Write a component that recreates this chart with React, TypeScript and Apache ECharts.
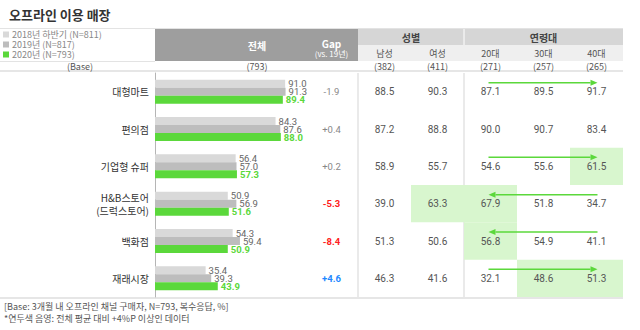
import React, { useEffect, useRef } from "react";
import * as echarts from "echarts";

const TITLE = "오프라인 이용 매장";
const CATEGORIES = ["대형마트", "편의점", "기업형 슈퍼", "H&B스토어\n(드럭스토어)", "백화점", "재래시장"];
const SERIES_NAMES = ["2018년 하반기 (N=811)", "2019년 (N=817)", "2020년 (N=793)"];
const S2018 = [91.0, 84.3, 56.4, 50.9, 54.3, 35.4];
const S2019 = [91.3, 87.6, 57.0, 56.9, 59.4, 39.3];
const S2020 = [89.4, 88.0, 57.3, 51.6, 50.9, 43.9];

const TABLE_COLS = ["Gap", "남성", "여성", "20대", "30대", "40대"];
const COL_BASES = ["", "(382)", "(411)", "(271)", "(257)", "(265)"];
const TOTAL_BASE = "(793)";
const GAP = [-1.9, 0.4, 0.2, -5.3, -8.4, 4.6];
const GAP_SIG = [0, 0, 0, 1, 1, 1];
const MALE = [88.5, 87.2, 58.9, 39.0, 51.3, 46.3];
const FEMALE = [90.3, 88.8, 55.7, 63.3, 50.6, 41.6];
const AGE20 = [87.1, 90.0, 54.6, 67.9, 56.8, 32.1];
const AGE30 = [89.5, 90.7, 55.6, 51.8, 54.9, 48.6];
const AGE40 = [91.7, 83.4, 61.5, 34.7, 41.1, 51.3];
// [column index, row index]
const HIGHLIGHTS = [[5, 2], [2, 3], [3, 3], [3, 4], [4, 5], [5, 5]];
const ARROW_ROWS = [0, 2, 3, 4, 5];
const ARROW_DIRS = [1, 1, -1, -1, 1];

const FOOT1 = "[Base: 3개월 내 오프라인 채널 구매자, N=793, 복수응답, %]";
const FOOT2 = "*연두색 음영: 전체 평균 대비 +4%P 이상인 데이터";

const FONT = '"Noto Sans CJK KR", "Noto Sans", sans-serif';
const NUMFONT = 'Roboto, "Noto Sans CJK KR", sans-serif';
const GREEN = "#5bd83b";
const LIGHT_GREEN = "#d8f6ce";
const C18 = "#d9d9d9";
const C19 = "#bdbdbd";

// layout constants
const BAR_LEFT = 155;
const TABLE_LEFT = 305;
const TABLE_RIGHT = 623;
const BODY_TOP = 73;
const BODY_BOTTOM = 297;
const COL_W = (TABLE_RIGHT - TABLE_LEFT) / TABLE_COLS.length;

function txt(x: number, y: number, text: string, fill: string, font: string, align = "center") {
  return { type: "text", x, y, style: { text, fill, font, align, textAlign: align, verticalAlign: "middle", textVerticalAlign: "middle" } };
}

export default function App() {
  const ref = useRef<HTMLDivElement>(null);
  useEffect(() => {
    if (!ref.current) return;
    const chart = echarts.init(ref.current, null, { renderer: "svg" });

    const colCenter = (i: number) => TABLE_LEFT + COL_W * (i + 0.5);
    const tableCols = [GAP, MALE, FEMALE, AGE20, AGE30, AGE40];
    const cellData: any[] = [];
    tableCols.forEach((arr, c) => arr.forEach((v, r) => cellData.push([c, r, v])));
    const totalX = 257;

    const graphics: any[] = [
      // lines
      { type: "line", shape: { x1: 0, y1: 28.5, x2: TABLE_RIGHT, y2: 28.5 }, style: { stroke: "#e3e3e3", lineWidth: 1 } },
      { type: "line", shape: { x1: 0, y1: 61.5, x2: BAR_LEFT, y2: 61.5 }, style: { stroke: "#e3e3e3", lineWidth: 1 } },
      { type: "line", shape: { x1: 0, y1: 71, x2: TABLE_RIGHT, y2: 71 }, style: { stroke: "#e6e6e6", lineWidth: 2 } },
      { type: "line", shape: { x1: 0, y1: BODY_BOTTOM + 1, x2: TABLE_RIGHT, y2: BODY_BOTTOM + 1 }, style: { stroke: "#e6e6e6", lineWidth: 2 } },
      // header blocks
      { type: "rect", shape: { x: BAR_LEFT, y: 29, width: TABLE_LEFT + COL_W - BAR_LEFT, height: 32 }, style: { fill: "#9e9e9e" } },
      { type: "rect", shape: { x: TABLE_LEFT + COL_W, y: 29, width: TABLE_RIGHT - TABLE_LEFT - COL_W, height: 16 }, style: { fill: "#d6d6d6" } },
      { type: "rect", shape: { x: TABLE_LEFT + COL_W, y: 45, width: TABLE_RIGHT - TABLE_LEFT - COL_W, height: 16 }, style: { fill: "#efefef" } },
      { type: "line", shape: { x1: TABLE_LEFT + COL_W * 3, y1: 29, x2: TABLE_LEFT + COL_W * 3, y2: 45 }, style: { stroke: "#ffffff", lineWidth: 1 } },
      // body vertical lines
      { type: "line", shape: { x1: TABLE_LEFT + COL_W, y1: BODY_TOP, x2: TABLE_LEFT + COL_W, y2: BODY_BOTTOM }, style: { stroke: "#e3e3e3", lineWidth: 1.5 } },
      { type: "line", shape: { x1: TABLE_LEFT + COL_W * 3, y1: BODY_TOP, x2: TABLE_LEFT + COL_W * 3, y2: BODY_BOTTOM }, style: { stroke: "#e3e3e3", lineWidth: 1.5 } },
      // header texts
      txt(totalX, 45, "전체", "#fff", `bold 10px ${FONT}`),
      txt(colCenter(0), 43, TABLE_COLS[0], "#fff", `bold 10px ${FONT}`),
      txt(colCenter(0), 53.5, "(vs. 19년)", "#fff", `8px ${FONT}`),
      txt((TABLE_LEFT + COL_W + TABLE_LEFT + COL_W * 3) / 2, 37, "성별", "#444", `bold 10px ${FONT}`),
      txt((TABLE_LEFT + COL_W * 3 + TABLE_RIGHT) / 2, 37, "연령대", "#444", `bold 10px ${FONT}`),
      txt(80, 66, "(Base)", "#555", `9px ${FONT}`),
      txt(totalX, 66, TOTAL_BASE, "#555", `9px ${FONT}`),
      // footer
      txt(4, 306, FOOT1, "#555", `9px ${FONT}`, "left"),
      txt(4, 318, FOOT2, "#555", `9px ${FONT}`, "left"),
    ];
    TABLE_COLS.forEach((name, i) => {
      if (i === 0) return;
      graphics.push(txt(colCenter(i), 53, name, "#555", `9px ${FONT}`));
      graphics.push(txt(colCenter(i), 66, COL_BASES[i], "#555", `9px ${FONT}`));
    });

    const barLabel = (color: string, bold: boolean) => ({
      show: true,
      position: "right",
      distance: 3,
      fontSize: 9.5,
      lineHeight: 9,
      fontFamily: NUMFONT,
      color,
      fontWeight: bold ? "bold" : "normal",
      formatter: (p: any) => Number(p.value).toFixed(1),
    });

    const option: any = {
      animation: false,
      textStyle: { fontFamily: FONT },
      title: { text: TITLE, left: 4, top: 3, textStyle: { fontSize: 13, fontWeight: "bold", color: "#333", fontFamily: FONT } },
      legend: {
        data: SERIES_NAMES,
        orient: "vertical",
        left: 3,
        top: 29.5,
        padding: 0,
        itemWidth: 6,
        itemHeight: 6,
        itemGap: 0,
        icon: "rect",
        textStyle: { fontSize: 9, color: "#888", lineHeight: 10, height: 10, fontFamily: FONT, padding: [0, 0, 0, -2] },
        selectedMode: false,
      },
      grid: [
        { left: BAR_LEFT, width: 143, top: BODY_TOP, height: BODY_BOTTOM - BODY_TOP },
        { left: TABLE_LEFT, width: TABLE_RIGHT - TABLE_LEFT, top: BODY_TOP, height: BODY_BOTTOM - BODY_TOP },
      ],
      xAxis: [
        { gridIndex: 0, type: "value", min: 0, max: 100, show: false },
        { gridIndex: 1, type: "category", data: TABLE_COLS, show: false },
      ],
      yAxis: [
        {
          gridIndex: 0,
          type: "category",
          data: CATEGORIES,
          inverse: true,
          axisLine: { show: true, lineStyle: { color: "#b5b5b5", width: 1 } },
          axisTick: { show: false },
          axisLabel: { margin: 6, fontSize: 10, color: "#333", lineHeight: 13, fontFamily: FONT, align: "right" },
        },
        { gridIndex: 1, type: "category", data: CATEGORIES, inverse: true, show: false },
      ],
      graphic: graphics,
      series: [
        {
          type: "custom",
          xAxisIndex: 1,
          yAxisIndex: 1,
          data: HIGHLIGHTS,
          encode: { x: 0, y: 1 },
          z: 1,
          renderItem: (params: any, api: any) => {
            const c = api.coord([api.value(0), api.value(1)]);
            const s = api.size([1, 1]);
            return { type: "rect", shape: { x: c[0] - s[0] / 2, y: c[1] - s[1] / 2, width: s[0], height: s[1] }, style: { fill: LIGHT_GREEN } };
          },
        },
        {
          name: SERIES_NAMES[0], type: "bar", data: S2018, barWidth: 8, barGap: "0%", itemStyle: { color: C18 },
          label: barLabel("#666", false),
        },
        {
          name: SERIES_NAMES[1], type: "bar", data: S2019, barWidth: 8, barGap: "0%", itemStyle: { color: C19 },
          label: barLabel("#666", false),
        },
        {
          name: SERIES_NAMES[2], type: "bar", data: S2020, barWidth: 8, barGap: "0%", itemStyle: { color: GREEN },
          label: barLabel(GREEN, true),
        },
        {
          type: "custom",
          xAxisIndex: 1,
          yAxisIndex: 1,
          data: cellData,
          encode: { x: 0, y: 1 },
          z: 3,
          renderItem: (params: any, api: any) => {
            const col = api.value(0);
            const row = api.value(1);
            const v = api.value(2);
            const c = api.coord([col, row]);
            let text = Number(v).toFixed(1);
            let fill = "#555";
            let weight = "normal";
            if (col === 0) {
              if (v > 0) text = "+" + text;
              if (GAP_SIG[row]) {
                fill = v < 0 ? "#ff2020" : "#1e88ff";
                weight = "bold";
              } else {
                fill = "#888";
              }
            }
            return {
              type: "text",
              x: c[0],
              y: c[1],
              style: { text, fill, font: `${weight} ${col === 0 ? 9.5 : 10}px ${NUMFONT}`, align: "center", verticalAlign: "middle" },
            };
          },
        },
        {
          type: "custom",
          xAxisIndex: 1,
          yAxisIndex: 1,
          data: ARROW_ROWS.map((r, i) => [3, r, ARROW_DIRS[i]]),
          encode: { x: 0, y: 1 },
          z: 4,
          renderItem: (params: any, api: any) => {
            const row = api.value(1);
            const dir = api.value(2);
            const a = api.coord([3, row]);
            const b = api.coord([5, row]);
            const y = a[1] - 9;
            const x20 = a[0] - 2;
            const x40 = b[0] + 1;
            const tail = dir > 0 ? x20 : x40;
            const tip = dir > 0 ? x40 : x20;
            const back = tip - dir * 7;
            return {
              type: "group",
              children: [
                { type: "line", shape: { x1: tail, y1: y, x2: back, y2: y }, style: { stroke: GREEN, lineWidth: 1.5 } },
                { type: "polygon", shape: { points: [[tip, y], [back, y - 3], [back, y + 3]] }, style: { fill: GREEN } },
              ],
            };
          },
        },
      ],
    };
    chart.setOption(option);
    return () => chart.dispose();
  }, []);
  return <div ref={ref} style={{ position: "absolute", left: 0, top: 0, width: 640, height: 330, background: "#fff" }} />;
}
